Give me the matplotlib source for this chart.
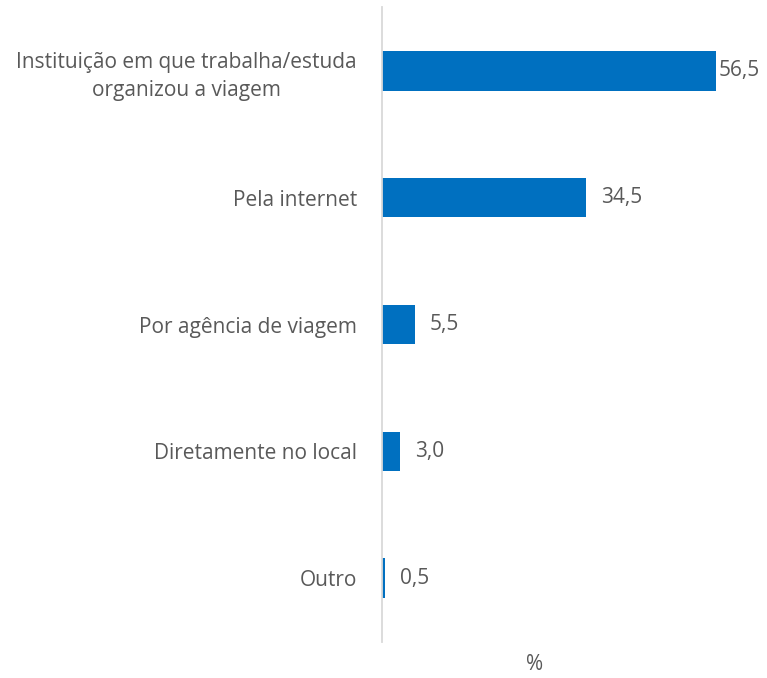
import numpy as np
import matplotlib.pyplot as plt

plt.rcParams['font.family'] = ['Open Sans', 'DejaVu Sans']

# data
categories = ['Instituição em que trabalha/estuda\norganizou a viagem',
              'Pela internet',
              'Por agência de viagem',
              'Diretamente no local',
              'Outro']
values = [56.5, 34.5, 5.5, 3.0, 0.5]
value_labels = ['56,5', '34,5', '5,5', '3,0', '0,5']

bar_color = '#0070C0'
text_color = '#595959'

fig = plt.figure(figsize=(7.67, 6.78), dpi=100)
ax = fig.add_axes([382 / 767, 36.5 / 678, 355 / 767, 634 / 678])

y = np.arange(len(categories))
ax.barh(y, values, height=0.31, color=bar_color)
ax.set_ylim(len(categories) - 0.5, -0.5)
ax.set_xlim(0, 60)

for yi, v, lab in zip(y, values, value_labels):
    off = 1.5 if v > 50 else 11
    ax.annotate(lab, (v, yi), xytext=(off, 0), textcoords='offset points',
                ha='left', va='center', fontsize=15, color=text_color)

ax.set_yticks(y)
ax.set_yticklabels(categories, fontsize=15, color=text_color, ha='right',
                   multialignment='center', linespacing=1.4)
ax.tick_params(axis='y', length=0, pad=18)
ax.set_xticks([])

for s in ['top', 'right', 'bottom']:
    ax.spines[s].set_visible(False)
ax.spines['left'].set_color('#D9D9D9')
ax.spines['left'].set_linewidth(1.3)

fig.text(535 / 767, 1 - 665 / 678, '%', fontsize=15, color=text_color,
         ha='center', va='center')

fig.savefig('out.png', dpi=100)
